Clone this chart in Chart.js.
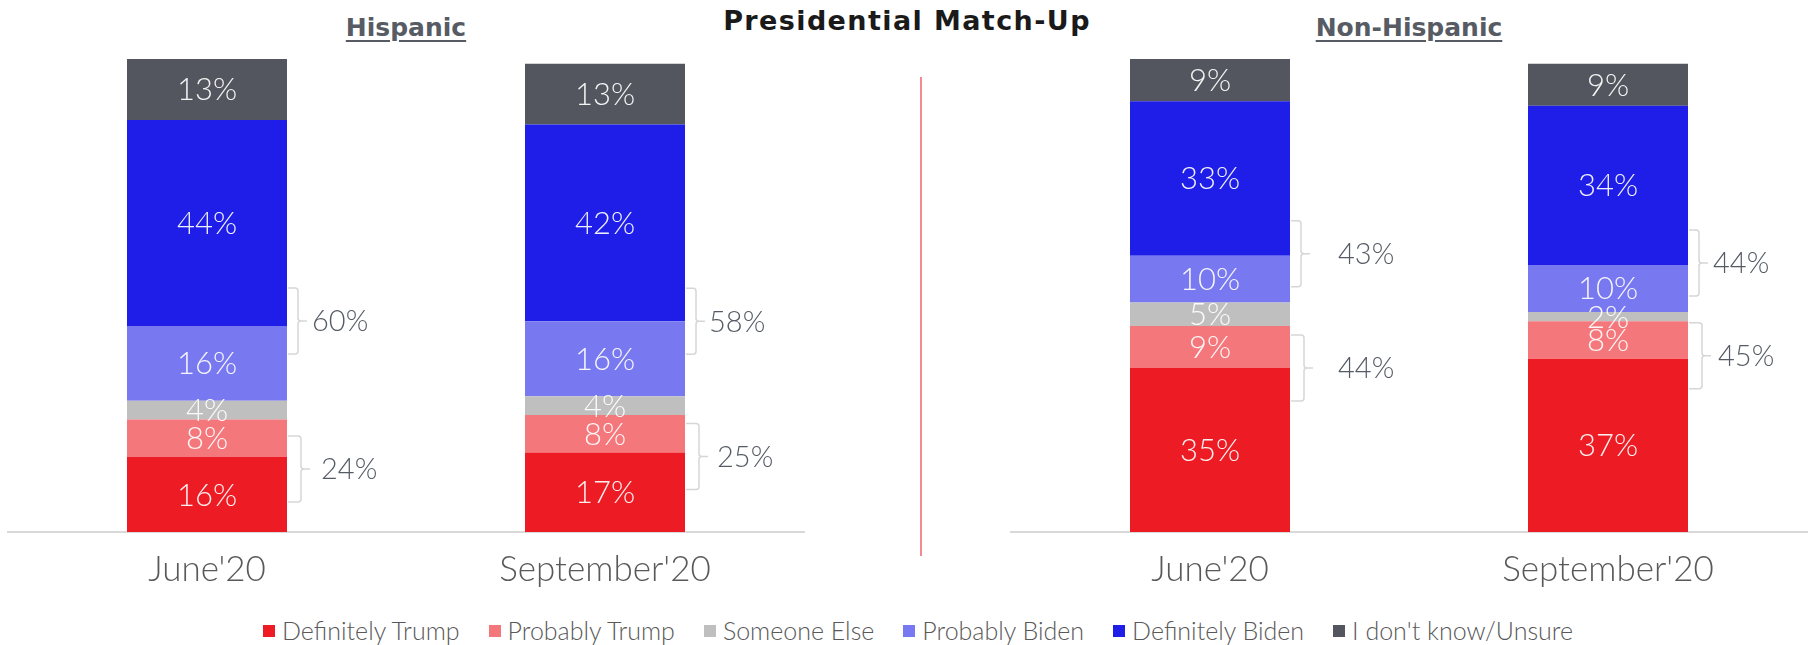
<!DOCTYPE html>
<html><head><meta charset="utf-8">
<script src="https://cdn.jsdelivr.net/npm/chart.js@4.4.1/dist/chart.umd.min.js"></script>
<style>
html,body{margin:0;padding:0;background:#fff;width:1812px;height:645px;overflow:hidden;position:relative;}
canvas{position:absolute;}
#title{position:absolute;left:0;width:1814px;top:7px;text-align:center;font-family:'DejaVu Sans';font-weight:bold;font-size:27px;letter-spacing:1.4px;color:#1a1a1a;line-height:27px;white-space:nowrap;}
.sub{position:absolute;top:15px;width:796px;text-align:center;font-family:'DejaVu Sans';font-weight:bold;font-size:25px;line-height:25px;color:#565b64;}
.sub span{text-decoration:underline;text-decoration-thickness:2px;text-underline-offset:4px;}
#divider{position:absolute;left:920px;top:77px;width:2px;height:479px;background:#f28b90;}
#legend{position:absolute;left:263px;top:618px;height:25px;display:flex;align-items:center;white-space:nowrap;font-family:'Lato';font-weight:300;font-size:25px;line-height:25px;color:#595959;}
#legend .item{display:flex;align-items:center;margin-right:29px;}
#legend .sw{width:12px;height:12px;margin-right:7px;}
</style></head>
<body>
<div id="title">Presidential Match-Up</div>
<div class="sub" style="left:8px"><span>Hispanic</span></div>
<div class="sub" style="left:1011px"><span>Non-Hispanic</span></div>
<div id="divider"></div>
<canvas id="left" width="812" height="610" style="left:0;top:0;width:812px;height:610px"></canvas>
<canvas id="right" width="807" height="610" style="left:1005px;top:0;width:807px;height:610px"></canvas>
<div id="legend"></div>
<script>
const categories = ["June'20", "September'20"];
const seriesNames = ["Definitely Trump", "Probably Trump", "Someone Else", "Probably Biden", "Definitely Biden", "I don't know/Unsure"];
const seriesColors = ["#ed1c24", "#f4777c", "#bfbfbf", "#7878f0", "#1e1ee8", "#53565e"];

const hispDefTrump = [16, 17];
const hispProbTrump = [8, 8];
const hispElse = [4, 4];
const hispProbBiden = [16, 16];
const hispDefBiden = [44, 42];
const hispUnsure = [13, 13];
const hispBidenTotal = [60, 58];
const hispTrumpTotal = [24, 25];

const nonDefTrump = [35, 37];
const nonProbTrump = [9, 8];
const nonElse = [5, 2];
const nonProbBiden = [10, 10];
const nonDefBiden = [33, 34];
const nonUnsure = [9, 9];
const nonBidenTotal = [43, 44];
const nonTrumpTotal = [44, 45];

const segLabelPlugin = {
  id: 'segLabels',
  afterDatasetsDraw(chart) {
    const ctx = chart.ctx;
    ctx.save();
    ctx.font = "300 31px Lato";
    ctx.fillStyle = "rgba(255,255,255,0.93)";
    ctx.textAlign = "center";
    ctx.textBaseline = "middle";
    chart.data.datasets.forEach((ds, di) => {
      const meta = chart.getDatasetMeta(di);
      meta.data.forEach((el, i) => {
        const v = ds.data[i];
        ctx.fillText(v + "%", el.x, (el.y + el.base) / 2 + 1);
      });
    });
    ctx.restore();
  }
};

const bracketPlugin = {
  id: 'brackets',
  afterDatasetsDraw(chart, args, opts) {
    const ctx = chart.ctx;
    const metaDT = chart.getDatasetMeta(0);
    const metaPB = chart.getDatasetMeta(3);
    const h = 33;
    function bracket(r, cy, off) {
      const vx = r + off;
      ctx.beginPath();
      ctx.moveTo(r + 1, cy - h);
      ctx.lineTo(vx - 3, cy - h);
      ctx.quadraticCurveTo(vx, cy - h, vx, cy - h + 3);
      ctx.lineTo(vx, cy - 3);
      ctx.quadraticCurveTo(vx, cy, vx + 3, cy);
      ctx.lineTo(vx + 9, cy);
      ctx.moveTo(vx + 3, cy);
      ctx.quadraticCurveTo(vx, cy, vx, cy + 3);
      ctx.lineTo(vx, cy + h - 3);
      ctx.quadraticCurveTo(vx, cy + h, vx - 3, cy + h);
      ctx.lineTo(r + 1, cy + h);
      ctx.stroke();
    }
    ctx.save();
    ctx.strokeStyle = "#d6d6d6";
    ctx.lineWidth = 1.5;
    ctx.font = "300 29px Lato";
    ctx.fillStyle = "#555b65";
    ctx.textAlign = "left";
    ctx.textBaseline = "middle";
    opts.top.forEach((val, i) => {
      const pb = metaPB.data[i];
      const dt = metaDT.data[i];
      const r = pb.x + pb.width / 2;
      const gaps = opts.gaps[i];
      const sh = opts.shifts[i];
      const cyTop = pb.y + sh[0];
      const cyBot = dt.y + sh[1];
      bracket(r, cyTop, 11);
      ctx.fillText(val + "%", r + gaps[0], cyTop + 1);
      bracket(r, cyBot, 14);
      ctx.fillText(opts.bottom[i] + "%", r + gaps[1], cyBot + 1);
    });
    ctx.restore();
  }
};

function makeChart(id, arrays, topTotals, bottomTotals, gaps, shifts, pad) {
  const datasets = arrays.map((arr, k) => ({
    label: seriesNames[k],
    data: arr,
    backgroundColor: seriesColors[k],
    borderWidth: 0,
    categoryPercentage: 0.402,
    barPercentage: 1
  }));
  return new Chart(document.getElementById(id), {
    type: 'bar',
    data: { labels: categories, datasets },
    plugins: [segLabelPlugin, bracketPlugin],
    options: {
      responsive: false,
      animation: false,
      events: [],
      layout: { padding: { left: pad[0], right: pad[1], top: 59, bottom: 0 } },
      plugins: {
        legend: { display: false },
        tooltip: { enabled: false },
        brackets: { top: topTotals, bottom: bottomTotals, gaps: gaps, shifts: shifts }
      },
      scales: {
        x: {
          stacked: true,
          afterFit(scale) { scale.height = 78; },
          grid: { display: false, drawTicks: false },
          border: { display: true, color: "#d9d9d9", width: 2 },
          ticks: { padding: 17, color: "#595959", font: { family: "Lato", weight: 300, size: 35 } }
        },
        y: {
          stacked: true,
          display: false,
          min: 0,
          max: 101
        }
      }
    }
  });
}

makeChart('left',
  [hispDefTrump, hispProbTrump, hispElse, hispProbBiden, hispDefBiden, hispUnsure],
  hispBidenTotal, hispTrumpTotal, [[25, 34], [24, 32]], [[-5, 12], [0, 4]], [8, 8]);
makeChart('right',
  [nonDefTrump, nonProbTrump, nonElse, nonProbBiden, nonDefBiden, nonUnsure],
  nonBidenTotal, nonTrumpTotal, [[48, 48], [25, 30]], [[-2, 0], [-2, -3]], [6, 5]);

const legend = document.getElementById('legend');
seriesNames.forEach((name, k) => {
  const item = document.createElement('div');
  item.className = 'item';
  const sw = document.createElement('span');
  sw.className = 'sw';
  sw.style.background = seriesColors[k];
  const tx = document.createElement('span');
  tx.textContent = name;
  item.appendChild(sw);
  item.appendChild(tx);
  legend.appendChild(item);
});
</script>
</body></html>
